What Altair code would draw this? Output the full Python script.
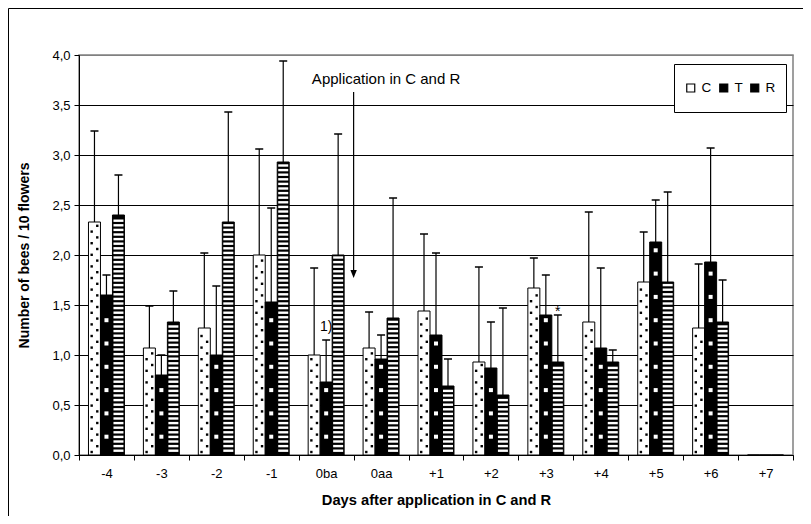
import altair as alt
import pandas as pd

# ---------------- data ----------------
days = ["-4", "-3", "-2", "-1", "0ba", "0aa", "+1", "+2", "+3", "+4", "+5", "+6", "+7"]
series = ["C", "T", "R"]

c_mean = [2.33, 1.07, 1.27, 2.00, 1.00, 1.07, 1.44, 0.93, 1.67, 1.33, 1.73, 1.27, 0.0]
t_mean = [1.60, 0.80, 1.00, 1.53, 0.73, 0.96, 1.20, 0.87, 1.40, 1.07, 2.13, 1.93, 0.0]
r_mean = [2.40, 1.33, 2.33, 2.93, 2.00, 1.37, 0.69, 0.60, 0.93, 0.93, 1.73, 1.33, 0.0]

c_upper = [3.24, 1.49, 2.02, 3.06, 1.87, 1.43, 2.21, 1.88, 1.97, 2.43, 2.23, 1.91, None]
t_upper = [1.80, 1.00, 1.69, 2.47, 1.15, 1.20, 2.02, 1.33, 1.80, 1.87, 2.55, 3.07, None]
r_upper = [2.80, 1.64, 3.43, 3.94, 3.21, 2.57, 0.96, 1.47, 1.40, 1.05, 2.63, 1.75, None]

y_ticks = [0.0, 0.5, 1.0, 1.5, 2.0, 2.5, 3.0, 3.5, 4.0]

# ---------------- tables ----------------
rows = []
for i, d in enumerate(days):
    for s, m, u in zip(series, [c_mean[i], t_mean[i], r_mean[i]],
                       [c_upper[i], t_upper[i], r_upper[i]]):
        rows.append({"day": d, "series": s, "mean": m, "upper": u})
df = pd.DataFrame(rows)
err = df.dropna(subset=["upper"])

# fill-pattern helpers (decoration clipped to each bar's value)
def pattern(values, name, start, step, margin):
    out = []
    for i, d in enumerate(days):
        k = 0
        while start + k * step < values[i] - margin:
            out.append({"day": d, "series": name, "pos": start + k * step})
            k += 1
    return out

stripes = pd.DataFrame(pattern(r_mean, "R", 0.043, 0.046, 0.025))
squares = pd.DataFrame(pattern(t_mean, "T", 0.183, 0.233, 0.04))
dots_l = pd.DataFrame(pattern(c_mean, "C", 0.03, 0.116, 0.025))
dots_r = pd.DataFrame(pattern(c_mean, "C", 0.088, 0.116, 0.025))

FONT = "Liberation Sans"

x_axis = alt.Axis(
    title="Days after application in C and R", titleFontWeight="bold", titleFontSize=14.7,
    titleY=45, titleBaseline="middle", labelAngle=0, labelFontSize=13, labelPadding=7,
    tickBand="extent", tickSize=5, tickColor="black", domainColor="black", grid=False,
    labelColor="black", titleColor="black",
)
y_axis = alt.Axis(
    title="Number of bees / 10 flowers", titleFontWeight="bold", titleFontSize=14,
    titleX=-55, titleY=200, titleBaseline="middle", titleAlign="center",
    values=y_ticks, labelExpr="replace(format(datum.value, '.1f'), '.', ',')",
    labelFontSize=13, labelPadding=4, tickSize=5, tickColor="black", domainColor="black",
    grid=True, gridColor=alt.condition("datum.value >= 4", alt.value("#808080"), alt.value("black")),
    gridWidth=1, labelColor="black", titleColor="black",
)

def X(band=None):
    kw = dict(sort=days, scale=alt.Scale(domain=days, paddingInner=0, paddingOuter=0), axis=x_axis)
    if band is not None:
        kw["bandPosition"] = band
    return alt.X("day:N", **kw)

def XO():
    return alt.XOffset("series:N", scale=alt.Scale(domain=series, paddingInner=0, paddingOuter=0.79))

def Y(field):
    return alt.Y(f"{field}:Q", scale=alt.Scale(domain=[0, 4], nice=False), axis=y_axis)

legend = alt.Legend(
    orient="none", legendX=595, legendY=9, direction="horizontal", title=None,
    strokeColor="black", fillColor="white", padding=10, symbolSize=64, symbolType="square",
    symbolStrokeColor="black", symbolStrokeWidth=1.2, symbolOpacity=1, clipHeight=28,
    labelOffset=4, columnPadding=5, labelFontSize=13.5, labelFont=FONT, labelColor="black",
)

bars = alt.Chart(df).mark_bar(stroke="black", strokeWidth=1).encode(
    x=X(), xOffset=XO(), y=Y("mean"),
    fill=alt.Fill("series:N", scale=alt.Scale(domain=series, range=["white", "black", "black"]),
                  legend=legend),
)

stripe_layer = alt.Chart(stripes).mark_tick(color="white", thickness=2.4, size=10, opacity=1,
                                            orient="horizontal").encode(
    x=X(), xOffset=XO(), y=Y("pos"))

square_layer = alt.Chart(squares).mark_square(color="white", size=16, opacity=1, strokeWidth=0).encode(
    x=X(), xOffset=XO(), y=Y("pos"))

PATH_L = "M-0.4,-0.12H-0.16V0.12H-0.4Z"
PATH_R = "M0.16,-0.12H0.4V0.12H0.16Z"
dot_l = alt.Chart(dots_l).mark_point(shape=PATH_L, filled=True, color="black", size=400,
                                     opacity=1, strokeWidth=0).encode(x=X(), xOffset=XO(), y=Y("pos"))
dot_r = alt.Chart(dots_r).mark_point(shape=PATH_R, filled=True, color="black", size=400,
                                     opacity=1, strokeWidth=0).encode(x=X(), xOffset=XO(), y=Y("pos"))

err_rule = alt.Chart(err).mark_rule(color="black", strokeWidth=1.2).encode(
    x=X(), xOffset=XO(), y=Y("mean"), y2="upper:Q")
err_cap = alt.Chart(err).mark_tick(color="black", thickness=1.5, size=8, opacity=1,
                                   orient="horizontal").encode(x=X(), xOffset=XO(), y=Y("upper"))

# annotations
arrow_df = pd.DataFrame({"day": ["0aa"], "top": [3.63], "bottom": [1.84], "head": [1.81]})
arrow_line = alt.Chart(arrow_df).mark_rule(color="black", strokeWidth=1.2).encode(
    x=X(band=0), y=Y("top"), y2="bottom:Q")
arrow_head = alt.Chart(arrow_df).mark_point(shape="M-0.8,-1L0.8,-1L0,1Z", filled=True, color="black",
                                            size=64, opacity=1, strokeWidth=0).encode(
    x=X(band=0), y=Y("head"))

app_df = pd.DataFrame({"day": ["0aa"], "pos": [3.76], "txt": ["Application in C and R"]})
app_text = alt.Chart(app_df).mark_text(fontSize=15, align="center", baseline="middle", dx=5,
                                       color="black").encode(x=X(), y=Y("pos"), text="txt:N")

note_df = pd.DataFrame({"day": ["0ba", "+3"], "series": ["T", "R"], "pos": [1.28, 1.43], "txt": ["1)", "*"]})
note_text = alt.Chart(note_df).mark_text(fontSize=14, align="center", baseline="middle",
                                         color="black").encode(x=X(), xOffset=XO(), y=Y("pos"), text="txt:N")

# outer frame (top and left edges of the chart border)
frame_df = pd.DataFrame({"a": [0]})
frame_top = alt.Chart(frame_df).mark_rule(color="black", strokeWidth=1).encode(
    x=alt.value(-70.5), x2=alt.value(800), y=alt.value(-46.5))
frame_left = alt.Chart(frame_df).mark_rule(color="black", strokeWidth=1).encode(
    x=alt.value(-70.5), y=alt.value(-46.5), y2=alt.value(600))

chart = alt.layer(
    bars, stripe_layer, square_layer, dot_l, dot_r, err_rule, err_cap,
    arrow_line, arrow_head, app_text, note_text, frame_top, frame_left,
).properties(
    width=714, height=400,
    autosize=alt.AutoSizeParams(type="none"),
    padding={"left": 71, "top": 47, "right": 10, "bottom": 61},
).configure(font=FONT, background="white").configure_view(stroke="#808080", strokeWidth=1.5)

chart.save("out.html", embed_options={"renderer": "svg", "actions": False})
